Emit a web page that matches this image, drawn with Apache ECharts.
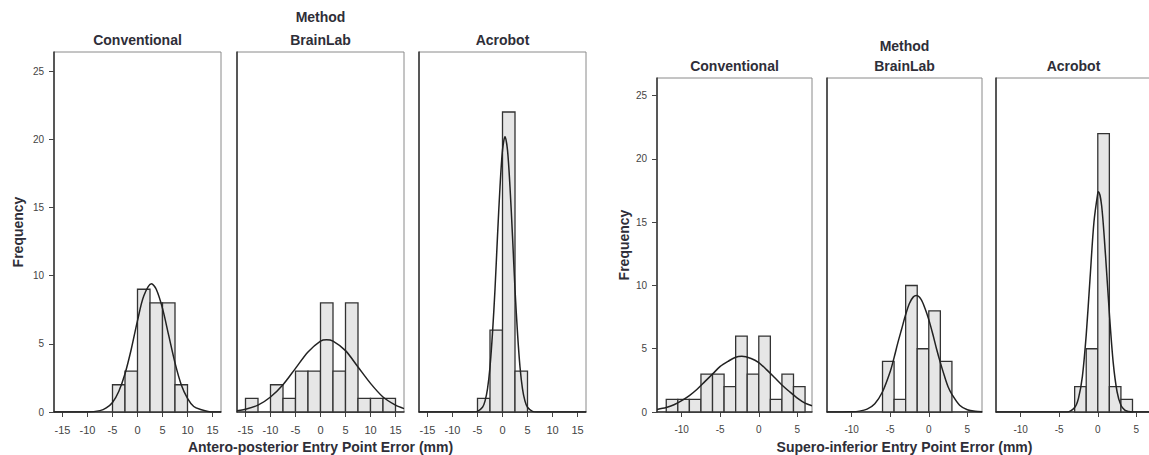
<!DOCTYPE html>
<html>
<head>
<meta charset="utf-8">
<script src="https://cdn.jsdelivr.net/npm/echarts@6/dist/echarts.min.js"></script>
<style>
  html, body { margin: 0; padding: 0; background: #fff; }
  #chart { width: 1149px; height: 455px; }
</style>
</head>
<body>
<div id="chart"></div>
<script>
// facet names
const methods = ['Conventional', 'BrainLab', 'Acrobot'];

// antero-posterior error: bin edges (mm) and counts per method
const apEdges = [-15, -12.5, -10, -7.5, -5, -2.5, 0, 2.5, 5, 7.5, 10, 12.5, 15];
const apConventional = [0, 0, 0, 0, 2, 3, 9, 8, 8, 2, 0, 0];
const apBrainLab = [1, 0, 2, 1, 3, 3, 8, 3, 8, 1, 1, 1];
const apAcrobot = [0, 0, 0, 0, 1, 6, 22, 3, 0, 0, 0, 0];
const apTicks = [-15, -10, -5, 0, 5, 10, 15];

// normal curves, [x, frequency]
const apConventionalCurve = [[-16.7, 0], [-10, 0], [-7.5, 0.1], [-6.25, 0.3], [-5, 0.7], [-3.75, 1.5], [-2.5, 2.8],
  [-1.25, 4.6], [0, 6.7], [1.25, 8.5], [2.8, 9.4], [3.75, 9.0], [5, 7.6], [6.25, 5.6], [7.5, 3.6], [8.75, 2.0],
  [10, 1.0], [11.25, 0.4], [12.5, 0.2], [15, 0], [16.7, 0]];
const apBrainLabCurve = [[-16.7, 0.1], [-15, 0.2], [-12.5, 0.5], [-10, 1.1], [-7.5, 2.0], [-5, 3.2], [-2.5, 4.4],
  [0, 5.2], [1.2, 5.3], [2.5, 5.2], [5, 4.5], [7.5, 3.3], [10, 2.1], [12.5, 1.1], [15, 0.5], [16.7, 0.25]];
const apAcrobotCurve = [[-16.7, 0], [-6, 0], [-5, 0.05], [-4, 0.35], [-3.5, 0.8], [-3, 1.7], [-2.5, 3.3], [-2, 5.8],
  [-1.5, 9.0], [-1, 12.9], [-0.5, 16.5], [0, 19.2], [0.5, 20.2], [1, 19.2], [1.5, 16.5], [2, 12.9], [2.5, 9.0],
  [3, 5.8], [3.5, 3.3], [4, 1.7], [4.5, 0.8], [5, 0.35], [6, 0.05], [7, 0], [16.7, 0]];

// supero-inferior error
const siEdges = [-12, -10.5, -9, -7.5, -6, -4.5, -3, -1.5, 0, 1.5, 3, 4.5, 6];
const siConventional = [1, 1, 1, 3, 3, 2, 6, 3, 6, 1, 3, 2];
const siBrainLab = [0, 0, 0, 0, 4, 1, 10, 5, 8, 4, 0, 0];
const siAcrobot = [0, 0, 0, 0, 0, 0, 2, 5, 22, 2, 1, 0];
const siTicks = [-10, -5, 0, 5];

const siConventionalCurve = [[-13.2, 0.2], [-12, 0.35], [-11, 0.57], [-10, 0.9], [-9, 1.3], [-8, 1.8], [-7, 2.4],
  [-6, 3.0], [-5, 3.6], [-4, 4.0], [-3, 4.33], [-2.2, 4.4], [-1, 4.23], [0, 3.9], [1, 3.35], [2, 2.75], [3, 2.14],
  [4, 1.6], [5, 1.1], [6, 0.7], [6.9, 0.5]];
const siBrainLabCurve = [[-13.2, 0], [-10, 0.02], [-9, 0.07], [-8, 0.23], [-7, 0.66], [-6, 1.6], [-5, 3.2],
  [-4.5, 4.3], [-4, 5.5], [-3.5, 6.6], [-3, 7.7], [-2.5, 8.6], [-2, 9.1], [-1.6, 9.2], [-1, 8.9], [-0.5, 8.2],
  [0, 7.3], [0.5, 6.2], [1, 5.0], [1.5, 3.9], [2, 2.9], [2.5, 2.0], [3, 1.4], [4, 0.54], [5, 0.18], [6, 0.05], [6.9, 0.02]];
const siAcrobotCurve = [[-13.2, 0], [-4, 0], [-3, 0.35], [-2.5, 1.1], [-2, 2.8], [-1.5, 6.1], [-1, 10.6],
  [-0.5, 15.0], [0, 17.3], [0.1, 17.4], [0.5, 16.3], [1, 12.4], [1.5, 7.8], [2, 3.9], [2.5, 1.6], [3, 0.53],
  [3.5, 0.15], [4, 0.04], [4.5, 0], [6.9, 0]];

const freqTicks = [0, 5, 10, 15, 20, 25];

const FONT = 'Liberation Sans, Arial, sans-serif';
const TXT = '#2e2e38';

const panels = [
  {
    lefts: [54, 237, 419], width: 167, top: 52, height: 360,
    xMin: -16.7, xMax: 16.7, ticks: apTicks, edges: apEdges,
    counts: [apConventional, apBrainLab, apAcrobot],
    curves: [apConventionalCurve, apBrainLabCurve, apAcrobotCurve],
    xName: 'Antero-posterior Entry Point Error (mm)',
    methodY: 10, facetY: 33, tickFont: 11, nameGap: 29, xNameGap: 28
  },
  {
    lefts: [657, 827, 996], width: 155, top: 78, height: 334,
    xMin: -13.2, xMax: 6.9, ticks: siTicks, edges: siEdges,
    counts: [siConventional, siBrainLab, siAcrobot],
    curves: [siConventionalCurve, siBrainLabCurve, siAcrobotCurve],
    xName: 'Supero-inferior Entry Point Error (mm)',
    methodY: 39, facetY: 59, tickFont: 10, nameGap: 26, xNameGap: 28
  }
];

const hist = (edges, counts) =>
  counts.map((n, i) => [edges[i], edges[i + 1], n]).filter(d => d[2] > 0);

const renderBar = (params, api) => {
  const p0 = api.coord([api.value(0), 0]);
  const p1 = api.coord([api.value(1), api.value(2)]);
  return {
    type: 'rect',
    shape: { x: p0[0], y: p1[1], width: p1[0] - p0[0], height: p0[1] - p1[1] },
    style: { fill: '#e6e6e6', stroke: '#333', lineWidth: 1.3 }
  };
};

const grid = [], xAxis = [], yAxis = [], series = [], title = [];

panels.forEach(p => {
  const midLeft = p.lefts[1] + p.width / 2;
  title.push({
    text: 'Method', left: midLeft, top: p.methodY, textAlign: 'center', padding: 0,
    textStyle: { fontFamily: FONT, fontSize: 14, fontWeight: 'bold', color: TXT }
  });
  p.lefts.forEach((left, i) => {
    const idx = grid.length;
    title.push({
      text: methods[i], left: left + p.width / 2, top: p.facetY, textAlign: 'center', padding: 0,
      textStyle: { fontFamily: FONT, fontSize: 14, fontWeight: 'bold', color: TXT }
    });
    grid.push({
      left: left, top: p.top, width: p.width, height: p.height,
      outerBoundsMode: 'none', containLabel: false,
      show: true, borderColor: '#8a8a8a', borderWidth: 1
    });
    xAxis.push({
      type: 'value', gridIndex: idx, min: p.xMin, max: p.xMax,
      name: i === 1 ? p.xName : '', nameLocation: 'middle', nameGap: p.xNameGap,
      nameTextStyle: { fontFamily: FONT, fontSize: 14, fontWeight: 'bold', color: TXT },
      axisLine: { show: true, onZero: false, lineStyle: { color: '#333', width: 1.5 } },
      axisTick: { show: true, length: 5, customValues: p.ticks, lineStyle: { color: '#444' } },
      axisLabel: { customValues: p.ticks, margin: 12, fontFamily: FONT, fontSize: p.tickFont, color: '#444' },
      splitLine: { show: false }
    });
    yAxis.push({
      type: 'value', gridIndex: idx, min: 0, max: 26.4,
      name: i === 0 ? 'Frequency' : '', nameLocation: 'middle', nameGap: p.nameGap, nameRotate: 90,
      nameTextStyle: { fontFamily: FONT, fontSize: 14, fontWeight: 'bold', color: TXT },
      axisLine: { show: true, onZero: false, lineStyle: { color: '#333', width: 1.5 } },
      axisTick: { show: i === 0, length: 5, customValues: freqTicks, lineStyle: { color: '#444' } },
      axisLabel: { show: i === 0, customValues: freqTicks, margin: 10, fontFamily: FONT, fontSize: 10, color: '#444' },
      splitLine: { show: false }
    });
    series.push({
      type: 'custom', xAxisIndex: idx, yAxisIndex: idx,
      data: hist(p.edges, p.counts[i]),
      encode: { x: [0, 1], y: 2 },
      renderItem: renderBar,
      z: 2
    });
    series.push({
      type: 'line', xAxisIndex: idx, yAxisIndex: idx,
      data: p.curves[i], smooth: 0.3, showSymbol: false, clip: true,
      lineStyle: { color: '#222', width: 1.5 },
      z: 3
    });
  });
});

const chart = echarts.init(document.getElementById('chart'), null, { renderer: 'svg' });
chart.setOption({
  animation: false,
  backgroundColor: '#fff',
  title, grid, xAxis, yAxis, series
});
</script>
</body>
</html>
